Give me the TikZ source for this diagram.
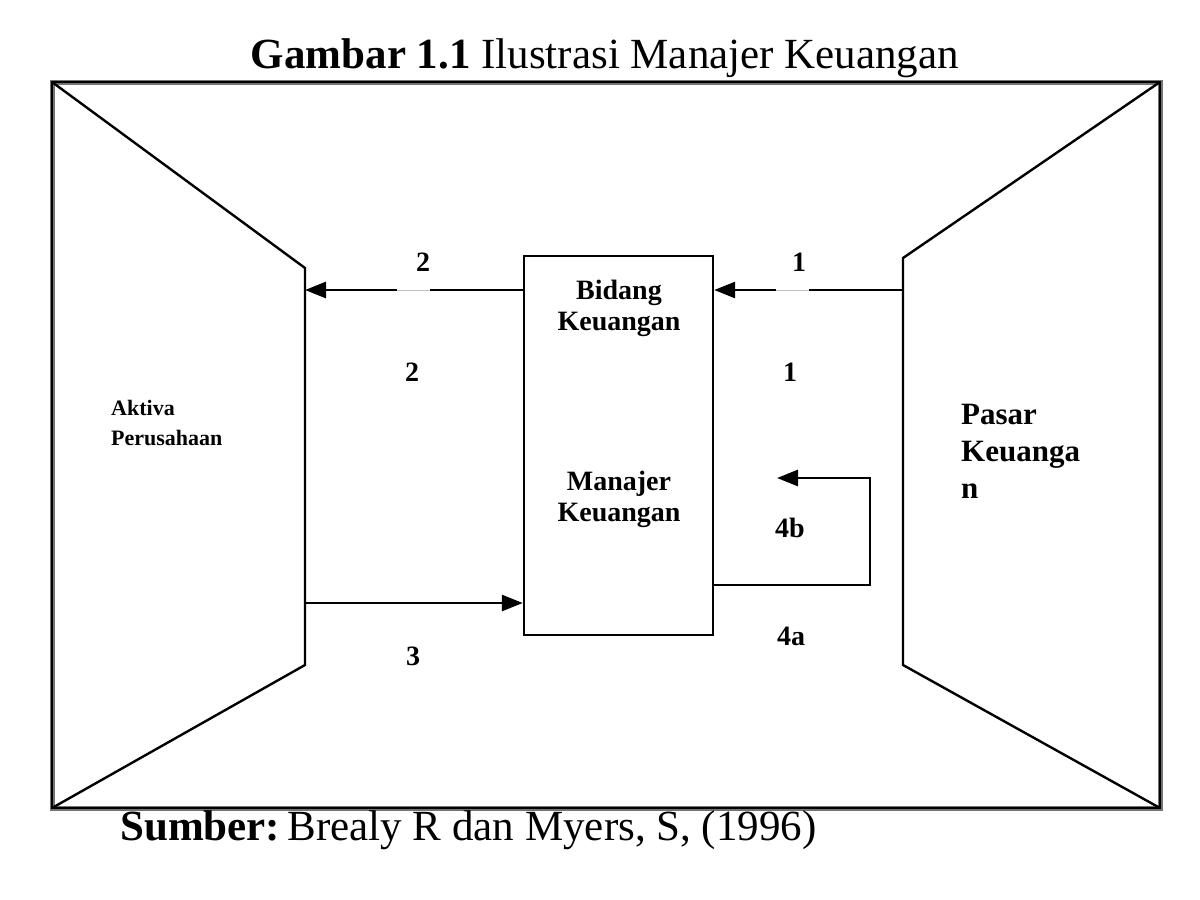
\documentclass[tikz,border=0pt]{standalone}
\usepackage{fontspec}
\setmainfont{Liberation Serif}
\usetikzlibrary{arrows.meta}
\begin{document}
\begin{tikzpicture}[x=1pt,y=-1pt,
  frame/.style={draw=black!55,line width=5pt},
  frameinner/.style={draw=black,line width=1.6pt},
  wall/.style={draw=black,line width=2.4pt},
  flow/.style={draw=black,line width=2.8pt},
  tip/.style={-{Triangle[length=21pt,width=16pt]}},
  gapline/.style={draw=black!25,line width=1pt},
  num/.style={font=\fontsize{28}{30}\selectfont\bfseries,inner sep=0pt},
  boxtxt/.style={font=\fontsize{28}{31}\selectfont\bfseries,align=center,inner sep=0pt,anchor=base},
  sidetxt/.style={align=left,inner sep=0pt,anchor=base west}]
\useasboundingbox (0,0) rectangle (1200,900);
% outer frame
\coordinate (TL) at (52,82);
\coordinate (TR) at (1160,82);
\coordinate (BR) at (1160,808);
\coordinate (BL) at (52,808);
\draw[frame] (TL) -- (TR) -- (BR) -- (BL) -- cycle;
\draw[frameinner] (TL) -- (TR) -- (BR) -- (BL) -- cycle;
% left trapezoid
\coordinate (LT) at (305,268);
\coordinate (LB) at (305,665);
\draw[wall] (TL) -- (LT) -- (LB) -- (BL);
% right trapezoid
\coordinate (RT) at (903,258);
\coordinate (RB) at (903,665);
\draw[wall] (TR) -- (RT) -- (RB) -- (BR);
% central box
\node[draw=black,line width=2.4pt,minimum width=189pt,minimum height=379pt,inner sep=0pt] (box) at (618.5,445.5) {};
\node[boxtxt] (bid) at (619,330) {Bidang\\Keuangan};
\node[boxtxt] (man) at (619,521) {Manajer\\Keuangan};
% arrow 2
\coordinate (a2s) at (box.west |- 0,290);
\coordinate (a2e) at (305,290);
\coordinate (g2r) at (430,290);
\coordinate (g2l) at (397,290);
\draw[flow] (a2s) -- (g2r);
\draw[gapline] (g2r) -- (g2l);
\draw[flow,tip] (g2l) -- (a2e);
% arrow 1
\coordinate (a1s) at (903,290);
\coordinate (a1e) at (box.east |- 0,290);
\coordinate (g1r) at (809,290);
\coordinate (g1l) at (776,290);
\draw[flow] (a1s) -- (g1r);
\draw[gapline] (g1r) -- (g1l);
\draw[flow,tip] (g1l) -- (a1e);
% arrow 3
\coordinate (a3s) at (305,603);
\draw[flow,tip] (a3s) -- (box.west |- 0,603);
% loop 4b
\coordinate (l1) at (870,585);
\coordinate (l2) at (870,478);
\coordinate (l3) at (777,478);
\draw[flow,tip] (box.east |- 0,585) -- (l1) -- (l2) -- (l3);
% numbers
\node[num] (n2a) at (423,262) {2};
\node[num] (n1a) at (799,262) {1};
\node[num] (n2b) at (412,372) {2};
\node[num] (n1b) at (790,372) {1};
\node[num] (n3) at (413,656) {3};
\node[num] (n4b) at (790,528) {4b};
\node[num] (n4a) at (791,636) {4a};
% side texts
\node[sidetxt,font=\fontsize{22}{30}\selectfont\bfseries] (akt) at (111,445) {Aktiva\\Perusahaan};
\node[sidetxt,font=\fontsize{31}{37}\selectfont\bfseries] (pas) at (961,498) {Pasar\\Keuanga\\n};
% title and source
\node[inner sep=0pt,anchor=base,font=\fontsize{43}{46}\selectfont] (title) at (605,68) {\textbf{Gambar 1.1} Ilustrasi Manajer Keuangan};
\node[inner sep=0pt,anchor=base west,font=\fontsize{43}{46}\selectfont] (src) at (120,840) {\textbf{Sumber:}\hspace{0.17em}Brealy R dan Myers, S, (1996)};
\end{tikzpicture}
\end{document}
